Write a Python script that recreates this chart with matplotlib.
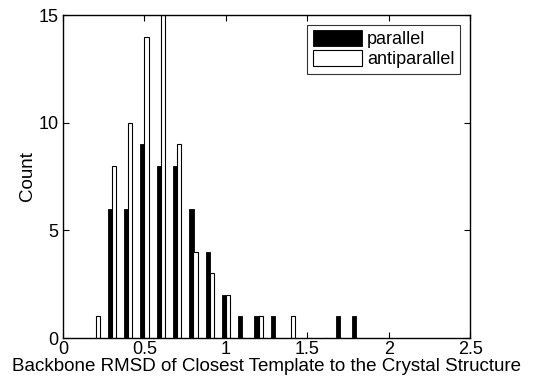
import numpy as np
import matplotlib.pyplot as plt

plt.rcParams['font.family'] = ['Liberation Sans', 'DejaVu Sans']

# histogram bins (RMSD, Angstrom) and counts for each strand orientation
bin_centers = [0.2, 0.3, 0.4, 0.5, 0.6, 0.7, 0.8, 0.9, 1.0, 1.1, 1.2, 1.3, 1.4, 1.5, 1.6, 1.7, 1.8]
parallel = [0, 6, 6, 9, 8, 8, 6, 4, 2, 1, 1, 1, 0, 0, 0, 1, 1]
antiparallel = [1, 8, 10, 14, 16, 9, 4, 3, 2, 0, 1, 0, 1, 0, 0, 0, 0]

x_ticks = [0, 0.5, 1, 1.5, 2, 2.5]
y_ticks = [0, 5, 10, 15]

fig = plt.figure(figsize=(5.33, 3.8), dpi=100)
ax = fig.add_axes([0.118, 0.1105, 0.764, 0.85])

x = np.array(bin_centers)
w = 0.026
ax.bar(x - 0.011, parallel, width=w, color='black', edgecolor='black',
       linewidth=0.6, label='parallel')
ax.bar(x + 0.014, antiparallel, width=w, color='white', edgecolor='black',
       linewidth=0.8, label='antiparallel')

ax.set_xlim(0, 2.5)
ax.set_ylim(0, 15)
ax.set_xticks(x_ticks)
ax.set_xticklabels(['0', '0.5', '1', '1.5', '2', '2.5'])
ax.set_yticks(y_ticks)
ax.tick_params(direction='in', length=4, width=0.8, top=True, right=True,
               labelsize=13)
ax.tick_params(axis='x', pad=2.5)
ax.tick_params(axis='y', pad=3)
for s in ax.spines.values():
    s.set_linewidth(1.0)

ax.set_xlabel('Backbone RMSD of Closest Template to the Crystal Structure',
              fontsize=13.5, labelpad=0)
ax.set_ylabel('Count', fontsize=13.5, labelpad=2)

leg = ax.legend(loc='upper right', bbox_to_anchor=(0.975, 0.97), fontsize=13,
                frameon=True, fancybox=False, edgecolor='black',
                handlelength=2.7, handleheight=1.0, handletextpad=0.3,
                borderpad=0.3, labelspacing=0.1, borderaxespad=0)
leg.get_frame().set_linewidth(0.8)

fig.savefig('out.png', dpi=100)
